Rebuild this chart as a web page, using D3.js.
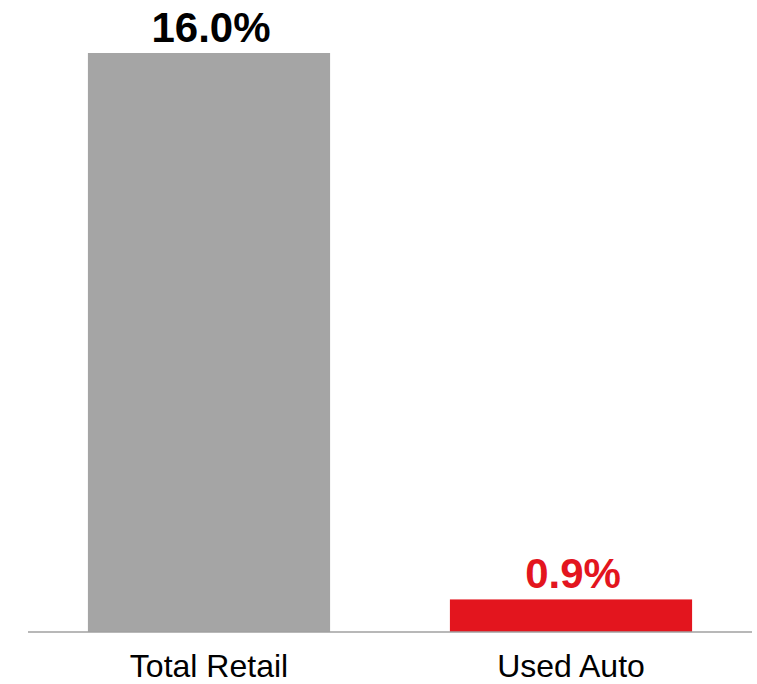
<!DOCTYPE html>
<html>
<head>
<meta charset="utf-8">
<script src="https://cdn.jsdelivr.net/npm/d3@7"></script>
<style>
  body { margin: 0; background: #fff; }
  text { font-family: "Liberation Sans", Arial, sans-serif; }
</style>
</head>
<body>
<svg id="svg" width="757" height="684"></svg>
<script>
const categories = ["Total Retail", "Used Auto"];
const values = [16.0, 0.9];
const labels = ["16.0%", "0.9%"];
const colors = ["#a5a5a5", "#e3151e"];
const labelColors = ["#000000", "#e3151e"];

const svg = d3.select("#svg"),
    base = 632;

const x = d3.scaleBand().domain(categories).range([28, 752]).paddingInner(0.331).paddingOuter(0.1655);
const y = d3.scaleLinear().domain([0, 16]).range([base, 53]);

svg.selectAll("rect.bar")
    .data(values)
    .enter().append("rect")
    .attr("class", "bar")
    .attr("x", (d, i) => x(categories[i]))
    .attr("width", x.bandwidth())
    .attr("y", d => y(d))
    .attr("height", d => base - y(d))
    .attr("fill", (d, i) => colors[i]);

// baseline
svg.append("line")
    .attr("x1", 28).attr("x2", 752)
    .attr("y1", base).attr("y2", base)
    .attr("stroke", "#a0a0a0").attr("stroke-width", 1.5);

// value labels
svg.selectAll("text.val")
    .data(values)
    .enter().append("text")
    .attr("class", "val")
    .attr("x", (d, i) => x(categories[i]) + x.bandwidth() / 2 + 2)
    .attr("y", d => y(d) - 11)
    .attr("text-anchor", "middle")
    .attr("font-size", 42)
    .attr("font-weight", "bold")
    .attr("fill", (d, i) => labelColors[i])
    .text((d, i) => labels[i]);

// category labels
svg.selectAll("text.cat")
    .data(categories)
    .enter().append("text")
    .attr("class", "cat")
    .attr("x", d => x(d) + x.bandwidth() / 2)
    .attr("y", 677)
    .attr("text-anchor", "middle")
    .attr("font-size", 32)
    .attr("fill", "#000")
    .text(d => d);
</script>
</body>
</html>
